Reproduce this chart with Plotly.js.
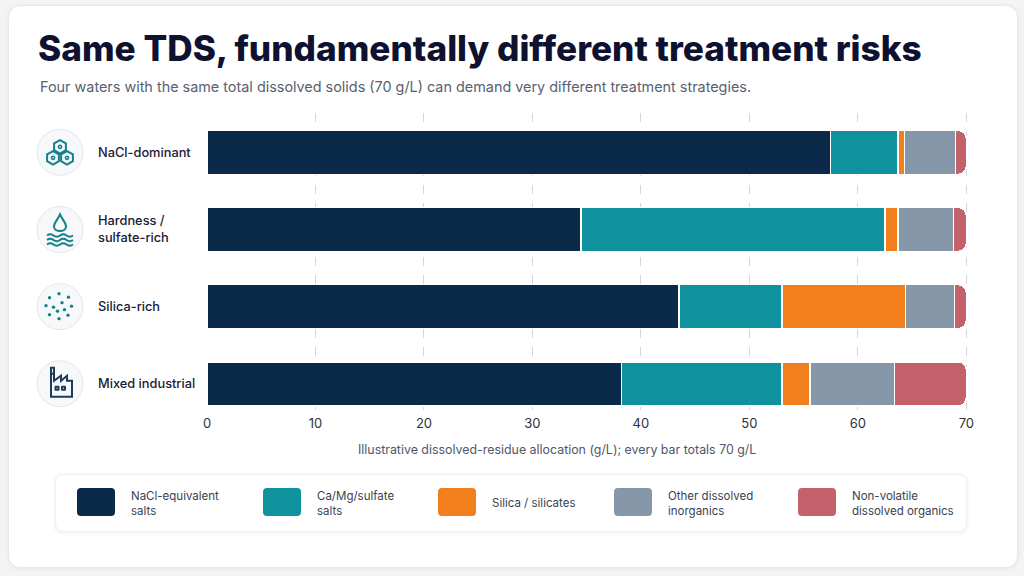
<!DOCTYPE html>
<html>
<head>
<meta charset="utf-8">
<script src="https://cdn.plot.ly/plotly-3.0.1.min.js"></script>
<style>
  html, body { margin: 0; padding: 0; width: 1024px; height: 576px; background: #f3f4f6; overflow: hidden; }
  #card { position: absolute; left: 8px; top: 5px; width: 1008px; height: 561px; background: #fff;
          border: 1px solid #e6e8eb; border-radius: 12px; box-shadow: 0 1px 5px rgba(0,0,0,0.06); }
  #legbox { position: absolute; left: 55px; top: 474px; width: 910px; height: 56px; background: #fff;
            border: 1px solid #eef0f2; border-radius: 8px; box-shadow: 0 1px 5px rgba(0,0,0,0.07); }
  #chart { position: absolute; left: 0; top: 0; width: 1024px; height: 576px; }
</style>
</head>
<body>
<div id="card"></div>
<div id="legbox"></div>
<div id="chart"></div>
<script>
// Four waters, same 70 g/L TDS, split by residue class (g/L).
const waters = ["NaCl-dominant", "Hardness /<br>sulfate-rich", "Silica-rich", "Mixed industrial"];
const components = ["NaCl-equivalent<br>salts", "Ca/Mg/sulfate<br>salts", "Silica / silicates",
                    "Other dissolved<br>inorganics", "Non-volatile<br>dissolved organics"];
const naclSalts = [57.5, 34.5, 43.5, 38.2];
const caMgSulfate = [6.2, 28.0, 9.5, 14.8];
const silica = [0.6, 1.2, 11.4, 2.6];
const otherInorganics = [4.7, 5.1, 4.5, 7.8];
const organics = [1.0, 1.2, 1.1, 6.6];
const xTickVals = [0, 10, 20, 30, 40, 50, 60, 70];

const COLORS = ["#0b2a4a", "#0f919e", "#f07f1c", "#8597a8", "#c4626b"];
const TEAL = "#13808c";
const NAVY = "#1c3b5a";
const FONT = "Inter, 'Noto Sans', sans-serif";

// plot area in page pixels; helpers map page px -> paper fractions
const L = 207, R = 975, T = 113, B = 410;
const px = (x) => (x - L) / (R - L);
const py = (y) => (B - y) / (B - T);

const series = [naclSalts, caMgSulfate, silica, otherInorganics, organics];
const traces = series.map((vals, k) => ({
  type: "bar", orientation: "h", y: waters, x: vals, width: 0.57, name: components[k],
  marker: { color: COLORS[k], line: { color: "#ffffff", width: 1.5 } }, hoverinfo: "skip",
}));

// pixel-mode paths: written in screen coords (y down), flipped here
const YS = -1;
function sp(cmds) {
  return cmds.map((c) => c[0] + c.slice(1).map((v, j) => (j % 2 ? YS * v : v)).join(",")).join(" ");
}
function rrect(x0, y0, w, h, r) {
  return sp([["M", x0 + r, y0], ["L", x0 + w - r, y0], ["Q", x0 + w, y0, x0 + w, y0 + r],
    ["L", x0 + w, y0 + h - r], ["Q", x0 + w, y0 + h, x0 + w - r, y0 + h], ["L", x0 + r, y0 + h],
    ["Q", x0, y0 + h, x0, y0 + h - r], ["L", x0, y0 + r], ["Q", x0, y0, x0 + r, y0], ["Z"]]);
}
function hex(cx, cy, r) {
  const pts = [];
  for (let a = -90; a < 270; a += 60) {
    const t = a * Math.PI / 180;
    pts.push([pts.length ? "L" : "M", cx + r * Math.cos(t), cy + r * Math.sin(t)]);
  }
  pts.push(["Z"]);
  return sp(pts);
}

const shapes = [];
const iconPos = (row) => ({ xref: "paper", yref: "y", xsizemode: "pixel", ysizemode: "pixel", xanchor: px(60), yanchor: row });
function addPath(row, path, color, fill) {
  shapes.push({ type: "path", ...iconPos(row), path, line: { color, width: 2 }, fillcolor: fill || "rgba(0,0,0,0)" });
}
function addDot(row, x, y, r, color, filled) {
  shapes.push({ type: "circle", ...iconPos(row), x0: x - r, x1: x + r, y0: YS * y - r, y1: YS * y + r,
    line: { color, width: filled ? 0 : 1.6 }, fillcolor: filled ? color : "rgba(0,0,0,0)" });
}

waters.forEach((w, i) => {
  shapes.push({ type: "circle", ...iconPos(i), x0: -23, x1: 23, y0: -23, y1: 23,
    fillcolor: "#f6f8f9", line: { color: "#e4e8eb", width: 1 } });
});

// NaCl: three hexagons
[[0, -5.5], [-7, 5.5], [7, 5.5]].forEach(([cx, cy]) => {
  addPath(0, hex(cx, cy, 6.8), TEAL);
  addDot(0, cx, cy, 1.6, TEAL, false);
});
// hardness: drop over waves
addPath(1, sp([["M", 0, -15], ["C", -2, -10, -6, -7, -6, -3], ["C", -6, 3, 6, 3, 6, -3], ["C", 6, -7, 2, -10, 0, -15], ["Z"]]), TEAL);
[6, 10.5, 15].forEach((y) => {
  addPath(1, sp([["M", -13, y], ["Q", -9.75, y - 2.5, -6.5, y], ["T", 0, y], ["T", 6.5, y], ["T", 13, y]]), TEAL);
});
// silica: scattered particles
[[-1, -13], [-10.5, -9], [8.5, -9.5], [-14, -1], [2, -4], [-6.5, 0.5], [11.5, -0.5], [-2.5, 4.5],
 [4.5, 3], [-10.5, 8], [8, 8.5], [-1, 12]].forEach(([x, y]) => addDot(2, x, y, 1.7, TEAL, true));
// mixed industrial: factory
addPath(3, sp([["M", -9, -16], ["L", -6, -16], ["L", -6, -3], ["L", 1, -8], ["L", 1, -3], ["L", 7, -8],
  ["L", 7, -3], ["L", 12, -3], ["L", 12, 13], ["L", -9, 13], ["Z"]]), NAVY);
addPath(3, rrect(-4.5, 3, 3, 3, 0.1), NAVY);
addPath(3, rrect(2, 3, 3, 3, 0.1), NAVY);
addPath(3, sp([["M", -9, -10], ["L", -6, -10]]), NAVY);

// legend swatches
const legendX = [77, 263, 438, 614, 798];
components.forEach((c, k) => {
  shapes.push({ type: "path", xref: "paper", yref: "paper", xsizemode: "pixel", ysizemode: "pixel",
    xanchor: px(legendX[k]), yanchor: py(502), path: rrect(0, -14, 38, 28, 4),
    fillcolor: COLORS[k], line: { width: 0 } });
});

const annotations = [];
waters.forEach((w, i) => {
  annotations.push({ xref: "paper", yref: "y", x: px(96), y: i, xanchor: "left", yanchor: "middle", align: "left",
    text: w, showarrow: false, font: { family: FONT, size: 12.8, color: "#1b2033", weight: 500 } });
});
components.forEach((c, k) => {
  annotations.push({ xref: "paper", yref: "paper", x: px(legendX[k] + 52), y: py(503), xanchor: "left", yanchor: "middle",
    align: "left", text: c, showarrow: false, font: { family: FONT, size: 11.5, color: "#3a4150" } });
});
annotations.push({ xref: "paper", yref: "paper", x: px(38), y: py(87), xanchor: "left", yanchor: "middle",
  text: "Four waters with the same total dissolved solids (70 g/L) can demand very different treatment strategies.",
  showarrow: false, font: { family: FONT, size: 14.4, color: "#596170" } });
annotations.push({ xref: "paper", yref: "paper", x: px(557), y: py(449), xanchor: "center", yanchor: "middle",
  text: "Illustrative dissolved-residue allocation (g/L); every bar totals 70 g/L",
  showarrow: false, font: { family: FONT, size: 12.4, color: "#4f5766" } });

const layout = {
  width: 1024, height: 576,
  paper_bgcolor: "rgba(0,0,0,0)", plot_bgcolor: "rgba(0,0,0,0)",
  margin: { l: L, r: 1024 - R, t: T, b: 576 - B },
  font: { family: FONT, color: "#2b3240" },
  showlegend: false,
  barmode: "stack",
  barcornerradius: 8,
  title: { text: "Same TDS, fundamentally different treatment risks", xref: "container", yref: "container",
    x: 38 / 1024, xanchor: "left", y: 1 - 49 / 576, yanchor: "middle",
    font: { family: FONT, size: 35.2, color: "#0e1230", weight: 800 } },
  xaxis: { range: [0, 70.8], tickvals: xTickVals, ticks: "", showline: false, zeroline: false,
    showgrid: true, gridcolor: "#d3d8de", griddash: "dash", gridwidth: 1,
    tickfont: { family: FONT, size: 13, color: "#2b3240" }, ticklabelstandoff: 4 },
  yaxis: { type: "category", range: [3.34, -0.51], showticklabels: false, showgrid: false, zeroline: false, ticks: "" },
  shapes, annotations,
};

Plotly.newPlot("chart", traces, layout, { displayModeBar: false, staticPlot: true });
</script>
</body>
</html>
